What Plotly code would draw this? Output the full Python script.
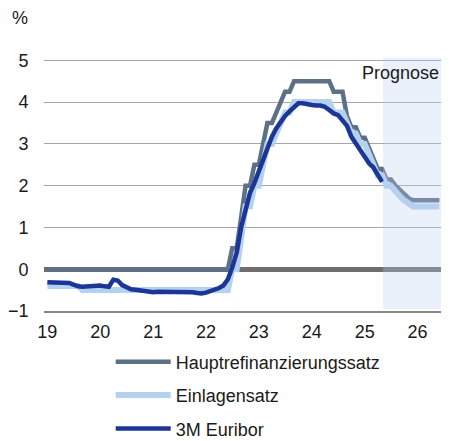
import plotly.graph_objects as go
import pandas as pd

# monthly values, Jan 2019 onwards
months = pd.date_range("2019-01-01", "2026-06-01", freq="MS")

hauptrefi = ([0.0] * 12 + [0.0] * 12 + [0.0] * 12 +
             [0, 0, 0, 0, 0, 0, 0.5, 0.5, 1.25, 2.0, 2.0, 2.5] +
             [2.5, 3.0, 3.5, 3.5, 3.75, 4.0, 4.25, 4.25, 4.5, 4.5, 4.5, 4.5] +
             [4.5, 4.5, 4.5, 4.5, 4.5, 4.25, 4.25, 4.25, 3.65, 3.4, 3.4, 3.15] +
             [3.15, 2.9, 2.65, 2.4, 2.4, 2.15, 2.15, 2.0, 1.9, 1.8, 1.7, 1.65] +
             [1.65] * 6)

einlagen = ([-0.4] * 8 + [-0.5] * 4 + [-0.5] * 12 + [-0.5] * 12 +
            [-0.5, -0.5, -0.5, -0.5, -0.5, -0.5, 0.0, 0.0, 0.75, 1.5, 1.5, 2.0] +
            [2.0, 2.5, 3.0, 3.0, 3.25, 3.5, 3.75, 3.75, 4.0, 4.0, 4.0, 4.0] +
            [4.0, 4.0, 4.0, 4.0, 4.0, 3.75, 3.75, 3.75, 3.5, 3.25, 3.25, 3.0] +
            [3.0, 2.75, 2.5, 2.25, 2.25, 2.0, 2.0, 1.85, 1.75, 1.65, 1.55, 1.5] +
            [1.5] * 6)

euribor = [-0.31, -0.31, -0.31, -0.31, -0.31, -0.33, -0.37, -0.41, -0.42, -0.41, -0.40, -0.40,
           -0.39, -0.41, -0.42, -0.25, -0.27, -0.38, -0.44, -0.48, -0.49, -0.51, -0.52, -0.54,
           -0.55, -0.54, -0.54, -0.54, -0.54, -0.54, -0.55, -0.55, -0.55, -0.55, -0.57, -0.58,
           -0.56, -0.53, -0.50, -0.45, -0.39, -0.24, 0.04, 0.40, 1.01, 1.43, 1.83, 2.06,
           2.35, 2.64, 2.91, 3.17, 3.37, 3.54, 3.67, 3.78, 3.88, 3.97, 3.97, 3.94,
           3.93, 3.92, 3.92, 3.89, 3.81, 3.73, 3.69, 3.55, 3.43, 3.17, 3.01, 2.82,
           2.70, 2.53, 2.44, 2.25, 2.09]

prognose_start = "2025-05-08"

font = dict(family="Liberation Sans, Arial", size=18, color="#1a1a1a")

fig = go.Figure()
fig.add_trace(go.Scatter(x=months, y=hauptrefi, mode="lines", name="Hauptrefinanzierungssatz",
                         line=dict(color="#5c7086", width=4.5), legendgroup="a", legendrank=1))
fig.add_trace(go.Scatter(x=months, y=einlagen, mode="lines", name="Einlagensatz",
                         line=dict(color="#b5d1f0", width=6), legendgroup="b", legendrank=2))
fig.add_trace(go.Scatter(x=months[:len(euribor)], y=euribor, mode="lines", name="3M Euribor",
                         line=dict(color="#1c3697", width=4.5), legendgroup="c", legendrank=3))

# Prognose shading, drawn over the lines so they look paler
fig.add_shape(type="rect", xref="x", yref="y", x0=prognose_start, x1="2026-08-10",
              y0=-0.96, y1=5.06, fillcolor="rgba(185,208,238,0.3)", line_width=0, layer="above")
fig.add_annotation(text="Prognose", xref="paper", yref="y", x=1, y=4.7, xanchor="right",
                   showarrow=False, font=font)
fig.add_annotation(text="%", xref="paper", yref="paper", x=-0.061, y=1.155, xanchor="center",
                   yanchor="middle", showarrow=False, font=font)

# page body adds an 8px offset, so the figure is kept smaller
fig.update_layout(
    width=433, height=433,
    margin=dict(l=36, r=0, t=49, b=130, autoexpand=False),
    paper_bgcolor="white", plot_bgcolor="white",
    font=font,
    showlegend=True,
    legend=dict(x=0.168, y=-0.128, xanchor="left", yanchor="top", tracegroupgap=7,
                itemwidth=55, font=font, bgcolor="rgba(0,0,0,0)"),
)
fig.update_xaxes(range=["2018-12-09", "2026-06-12"], tickformat="%y", dtick="M12",
                 tick0="2019-01-01", showgrid=False, showline=True, linecolor="#888888",
                 linewidth=1.5, ticks="outside", ticklen=4, tickcolor="rgba(0,0,0,0)",
                 zeroline=False, automargin=False)
fig.update_yaxes(range=[-1, 5.08], dtick=1, tick0=0, showgrid=True, gridcolor="#a6a6a6",
                 gridwidth=1, zeroline=True, zerolinecolor="#6f6e6c", zerolinewidth=4.5,
                 ticks="outside", ticklen=11, tickcolor="rgba(0,0,0,0)", showline=False,
                 automargin=False)

fig.write_html("out.html")
